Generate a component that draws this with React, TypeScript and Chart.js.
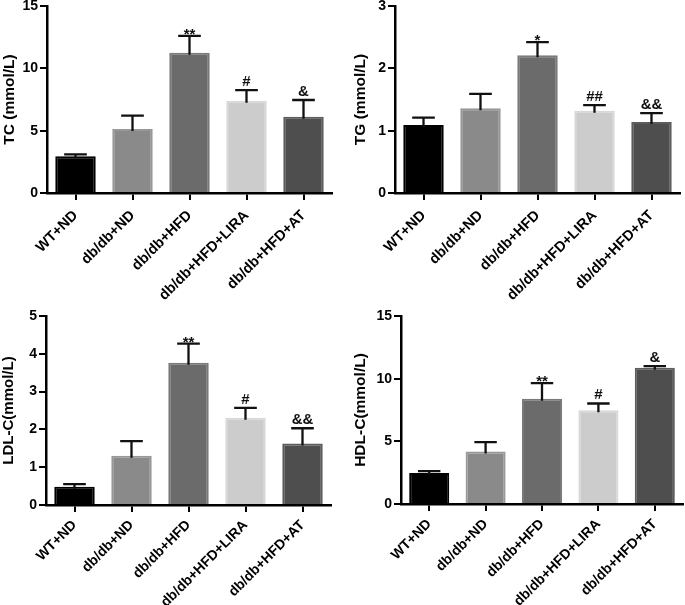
import React, { useEffect, useRef } from "react";
import { Chart, registerables } from "chart.js";

Chart.register(...registerables);

const categories = ["WT+ND", "db/db+ND", "db/db+HFD", "db/db+HFD+LIRA", "db/db+HFD+AT"];

const tcMean = [2.95, 5.13, 11.25, 7.4, 6.12];
const tcErr = [0.15, 1.07, 1.35, 0.86, 1.34];
const tcMarks = ["", "", "**", "#", "&"];

const tgMean = [1.09, 1.36, 2.21, 1.32, 1.14];
const tgErr = [0.12, 0.23, 0.21, 0.09, 0.14];
const tgMarks = ["", "", "*", "##", "&&"];

const ldlMean = [0.48, 1.3, 3.76, 2.31, 1.63];
const ldlErr = [0.07, 0.39, 0.51, 0.26, 0.4];
const ldlMarks = ["", "", "**", "#", "&&"];

const hdlMean = [2.47, 4.19, 8.39, 7.49, 10.88];
const hdlErr = [0.16, 0.75, 1.25, 0.53, 0.12];
const hdlMarks = ["", "", "**", "#", "&"];

const barFill = ["#000000", "#8a8a8a", "#6b6b6b", "#cccccc", "#4e4e4e"];
const barEdge = ["#000000", "#989898", "#7a7a7a", "#d8d8d8", "#5c5c5c"];

const FONT = "'Liberation Sans', Arial, Helvetica, sans-serif";

const errorBarPlugin = {
  id: "errorBars",
  afterDatasetsDraw(chart: any, _args: any, opts: any) {
    const ctx = chart.ctx;
    const meta = chart.getDatasetMeta(0);
    const ys = chart.scales.y;
    const data = chart.data.datasets[0].data;
    meta.data.forEach((bar: any, i: number) => {
      const v = data[i];
      const e = opts.errors[i];
      const x = bar.x;
      const y0 = ys.getPixelForValue(v);
      const y1 = ys.getPixelForValue(v + e);
      const half = bar.width * 0.28;
      ctx.save();
      ctx.strokeStyle = "#111";
      ctx.lineWidth = 2.3;
      ctx.beginPath();
      ctx.moveTo(x, y0 + 2);
      ctx.lineTo(x, y1);
      ctx.moveTo(x - half, y1);
      ctx.lineTo(x + half, y1);
      ctx.stroke();
      const m = opts.marks[i];
      if (m) {
        ctx.fillStyle = "#111";
        ctx.font = `bold 15px ${FONT}`;
        ctx.textAlign = "center";
        ctx.textBaseline = "alphabetic";
        const isStar = m.indexOf("*") >= 0;
        ctx.fillText(m, x, y1 + (isStar ? 3 : -4));
      }
      ctx.restore();
    });
  },
};

type PanelProps = {
  left: number;
  top: number;
  width: number;
  height: number;
  areaLeft: number;
  areaTop: number;
  areaRight: number;
  areaBottom: number;
  padLeft: number;
  xPad: number;
  xFont: number;
  title: string;
  titleSize: number;
  max: number;
  step: number;
  values: number[];
  errors: number[];
  marks: string[];
};

function Panel(p: PanelProps) {
  const ref = useRef<HTMLCanvasElement | null>(null);
  useEffect(() => {
    if (!ref.current) return;
    const yWidth = p.areaLeft - p.padLeft;
    const xHeight = p.height - p.areaBottom;
    const chart = new Chart(ref.current, {
      type: "bar",
      data: {
        labels: categories,
        datasets: [
          {
            data: p.values,
            backgroundColor: barFill,
            borderColor: barEdge,
            borderWidth: 2,
            categoryPercentage: 1,
            barPercentage: 0.71,
          },
        ],
      },
      options: {
        animation: false,
        responsive: false,
        devicePixelRatio: 1,
        layout: {
          padding: { left: p.padLeft, top: p.areaTop, right: p.width - p.areaRight, bottom: 0 },
        },
        plugins: {
          legend: { display: false },
          tooltip: { enabled: false },
          errorBars: { errors: p.errors, marks: p.marks },
        } as any,
        scales: {
          x: {
            offset: true,
            grid: {
              display: true,
              drawOnChartArea: false,
              drawTicks: true,
              tickLength: 7,
              offset: false,
              color: "#000",
              lineWidth: 2,
            },
            border: { display: true, color: "#000", width: 2.5 },
            ticks: {
              color: "#000",
              font: { family: FONT, size: p.xFont, weight: "bold" },
              minRotation: 45,
              maxRotation: 45,
              autoSkip: false,
              padding: p.xPad,
            },
            afterFit(scale: any) {
              scale.height = xHeight;
              scale.paddingLeft = 0;
              scale.paddingRight = 0;
              scale.paddingTop = 0;
              scale.paddingBottom = 0;
            },
          },
          y: {
            min: 0,
            max: p.max,
            grid: {
              display: true,
              drawOnChartArea: false,
              drawTicks: true,
              tickLength: 7,
              color: "#000",
              lineWidth: 2,
            },
            border: { display: true, color: "#000", width: 2.5 },
            ticks: {
              stepSize: p.step,
              color: "#000",
              padding: 2,
              font: { family: FONT, size: 14, weight: "bold" },
            },
            title: {
              display: true,
              text: p.title,
              color: "#000",
              padding: 0,
              font: { family: FONT, size: p.titleSize, weight: "bold" },
            },
            afterFit(scale: any) {
              scale.width = yWidth;
              scale.paddingLeft = 0;
              scale.paddingRight = 0;
              scale.paddingTop = 0;
              scale.paddingBottom = 0;
            },
          },
        },
      } as any,
      plugins: [errorBarPlugin as any],
    });
    return () => chart.destroy();
  }, []);
  return (
    <canvas
      ref={ref}
      width={p.width}
      height={p.height}
      style={{ position: "absolute", left: p.left, top: p.top, width: p.width, height: p.height }}
    />
  );
}

export default function App() {
  return (
    <div style={{ position: "absolute", left: 0, top: 0, width: 685, height: 605, background: "#fff" }}>
      <Panel left={0} top={0} width={340} height={300} areaLeft={47} areaTop={6} areaRight={332} areaBottom={193}
        padLeft={0} xPad={7} xFont={14.5} title="TC (mmol/L)" titleSize={15.5} max={15} step={5} values={tcMean} errors={tcErr} marks={tcMarks} />
      <Panel left={340} top={0} width={345} height={300} areaLeft={55} areaTop={6} areaRight={340} areaBottom={193}
        padLeft={11} xPad={7} xFont={14.5} title="TG (mmol/L)" titleSize={15.5} max={3} step={1} values={tgMean} errors={tgErr} marks={tgMarks} />
      <Panel left={0} top={300} width={340} height={305} areaLeft={46} areaTop={16} areaRight={331} areaBottom={205}
        padLeft={0} xPad={5} xFont={14} title="LDL-C(mmol/L)" titleSize={15} max={5} step={1} values={ldlMean} errors={ldlErr} marks={ldlMarks} />
      <Panel left={340} top={300} width={345} height={305} areaLeft={61} areaTop={16} areaRight={343} areaBottom={204}
        padLeft={11} xPad={5} xFont={14} title="HDL-C(mmol/L)" titleSize={15.5} max={15} step={5} values={hdlMean} errors={hdlErr} marks={hdlMarks} />
    </div>
  );
}
